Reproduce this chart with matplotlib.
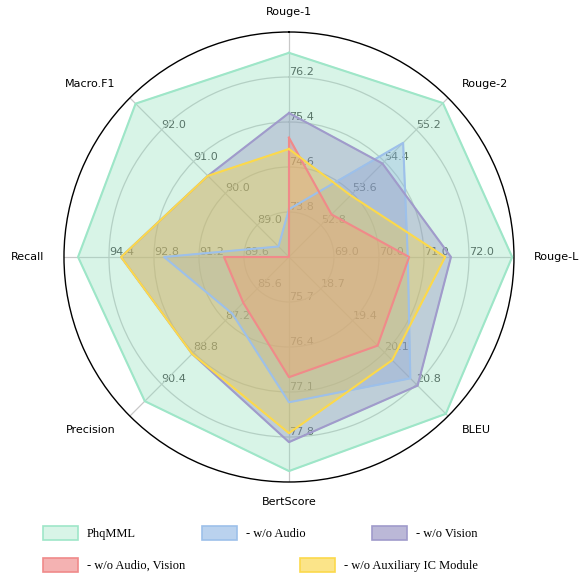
import numpy as np
import matplotlib.pyplot as plt
from matplotlib.patches import Patch

# metrics, clockwise from the top
metrics = ['Rouge-1', 'Rouge-2', 'Rouge-L', 'BLEU', 'BertScore', 'Precision', 'Recall', 'Macro.F1']

# each axis has its own scale: value at the centre and at the outer circle
axis_min = [73.0, 52.0, 68.0, 18.0, 75.0, 84.0, 88.0, 88.0]
axis_max = [77.0, 56.0, 73.0, 21.5, 78.5, 92.0, 96.0, 93.0]

# ring labels per axis (rings at 0.2, 0.4, 0.6, 0.8)
ring_labels = [
    ['73.8', '74.6', '75.4', '76.2'],
    ['52.8', '53.6', '54.4', '55.2'],
    ['69.0', '70.0', '71.0', '72.0'],
    ['18.7', '19.4', '20.1', '20.8'],
    ['75.7', '76.4', '77.1', '77.8'],
    ['85.6', '87.2', '88.8', '90.4'],
    ['89.6', '91.2', '92.8', '94.4'],
    ['89.0', '90.0', '91.0', '92.0'],
]

phqmml = [76.63, 55.87, 72.96, 21.45, 78.33, 91.25, 95.50, 92.82]
no_audio = [73.85, 54.87, 70.64, 20.67, 77.26, 86.85, 92.44, 88.33]
no_vision = [75.56, 54.35, 71.60, 20.83, 77.88, 88.87, 93.97, 90.55]
no_audio_vision = [75.12, 53.07, 70.67, 19.95, 76.87, 86.30, 90.31, 88.00]
no_aux = [74.92, 53.55, 71.47, 20.27, 77.74, 88.87, 93.97, 90.55]

names = ['PhqMML', '- w/o Audio', '- w/o Vision', '- w/o Audio, Vision', '- w/o Auxiliary IC Module']
series = [phqmml, no_audio, no_vision, no_audio_vision, no_aux]
fill_colors = ['#90e0bd', '#8cb4e3', '#8e89bd', '#ee8080', '#f9d33b']
line_colors = ['#9ee6c8', '#9dc0ea', '#a09bcb', '#f08a8a', '#fcd94b']
legend_alpha = [0.35, 0.6, 0.6, 0.6, 0.6]

n = len(metrics)
angles = np.linspace(0, 2 * np.pi, n, endpoint=False)
lo = np.array(axis_min)
hi = np.array(axis_max)

fig = plt.figure(figsize=(5.87, 5.76), dpi=100)
ax = fig.add_axes([0.1090, 0.1632, 0.7666, 0.78125], projection='polar')
ax.set_theta_offset(np.pi / 2)
ax.set_theta_direction(-1)
ax.set_ylim(0, 1)

ax.set_thetagrids(np.degrees(angles), [''] * n)
ax.set_rgrids([0.2, 0.4, 0.6, 0.8], labels=[''] * 4)
ax.grid(color='#c8c8c8', linewidth=0.9)
ax.spines['polar'].set_linewidth(1.0)
ax.spines['polar'].set_color('black')

# numbers along each axis, drawn under the fills
for i in range(n):
    for k, lab in enumerate(ring_labels[i]):
        ax.text(angles[i], 0.2 * (k + 1), lab, fontsize=8, color='#3c3c3c',
                ha='left', va='bottom', zorder=1)

# metric names outside the circle
for i in range(n):
    c = np.sin(angles[i])
    ha = 'left' if c > 0.01 else ('right' if c < -0.01 else 'center')
    dx = 14.4 * np.sin(angles[i])
    dy = 14.4 * np.cos(angles[i])
    ax.annotate(metrics[i], xy=(angles[i], 1.0), xytext=(dx, dy),
                textcoords='offset points', ha=ha, va='center', fontsize=8,
                annotation_clip=False)

closed = np.concatenate([angles, angles[:1]])
for vals, fc, lc in zip(series, fill_colors, line_colors):
    r = (np.array(vals) - lo) / (hi - lo)
    r = np.concatenate([r, r[:1]])
    ax.fill(closed, r, color=fc, alpha=0.35, zorder=2)
    ax.plot(closed, r, color=lc, linewidth=1.5, zorder=3)

handles = [Patch(facecolor=(*plt.matplotlib.colors.to_rgb(fc), a), edgecolor=lc, linewidth=1.2)
           for fc, lc, a in zip(fill_colors, line_colors, legend_alpha)]

leg_font = {'family': 'Liberation Serif', 'size': 9}
fig.legend(handles[:3], names[:3], loc='center left', bbox_to_anchor=(43 / 587, 1 - 533 / 576),
           ncol=3, frameon=False, prop=leg_font, handlelength=2.8, handleheight=1.4,
           handletextpad=0.72, columnspacing=5.3, borderpad=0, borderaxespad=0)
fig.legend(handles[3:], names[3:], loc='center left', bbox_to_anchor=(43 / 587, 1 - 565 / 576),
           ncol=2, frameon=False, prop=leg_font, handlelength=2.8, handleheight=1.4,
           handletextpad=0.72, columnspacing=9.2, borderpad=0, borderaxespad=0)

fig.savefig('out.png', dpi=100)
